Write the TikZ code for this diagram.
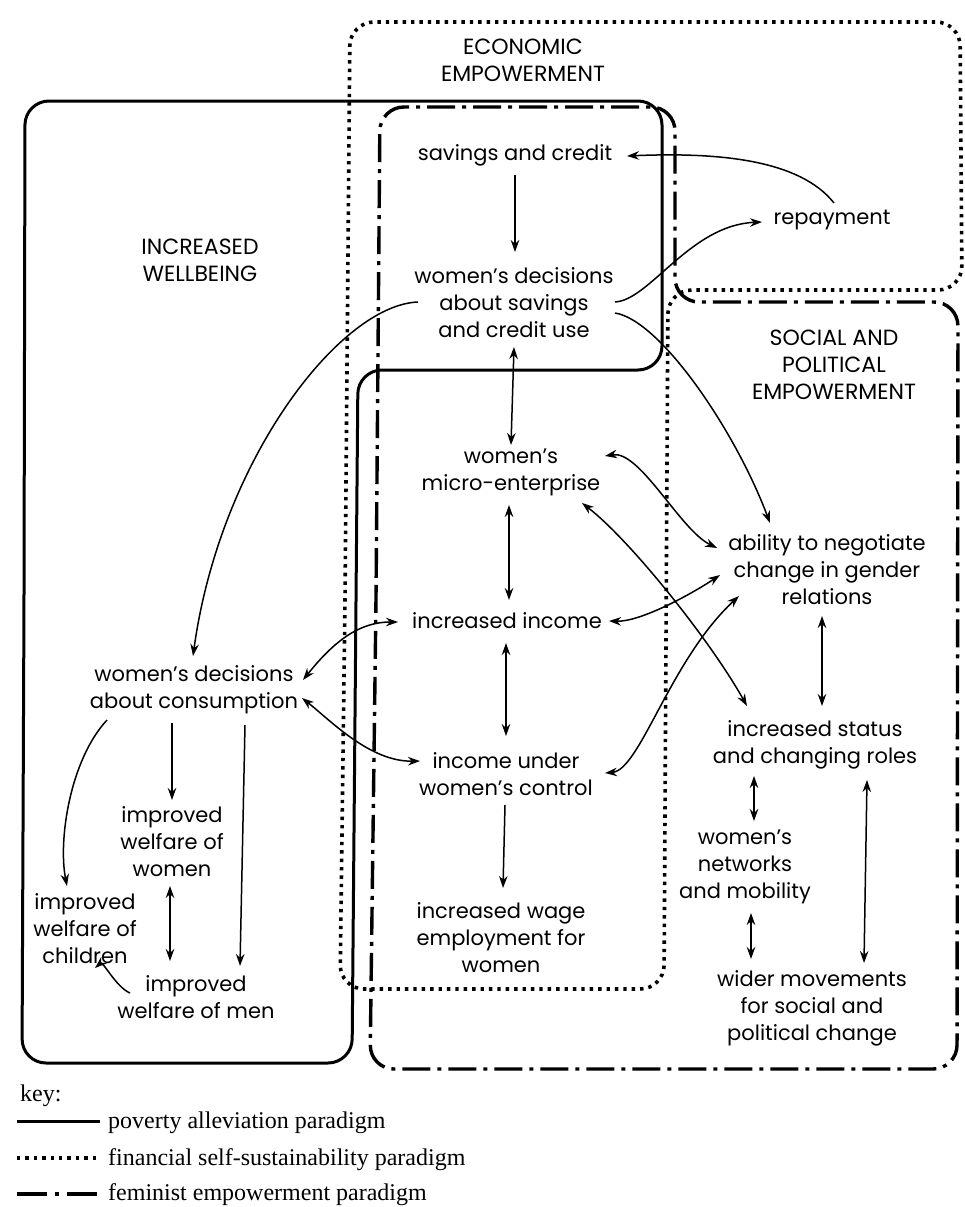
\documentclass[tikz,border=0pt]{standalone}
\usepackage{fontspec}
\setmainfont{Poppins}
\newfontfamily\keyfont{Liberation Serif}
\usetikzlibrary{calc,arrows.meta}
\begin{document}
\begin{tikzpicture}[x=1pt,y=-1pt,
  lab/.style={align=center,inner sep=0pt,font=\fontsize{21}{27}\selectfont},
  heading/.style={align=center,inner sep=0pt,font=\fontsize{22}{27}\selectfont},
  arr/.style={line width=1.5pt,-{Stealth[length=12pt,width=8.5pt]}},
  darr/.style={line width=1.5pt,{Stealth[length=12pt,width=8.5pt]}-{Stealth[length=12pt,width=8.5pt]}},
  pov/.style={line width=3pt,rounded corners=24pt},
  fin/.style={line width=3.6pt,dash pattern=on 3.4pt off 5pt,rounded corners=24pt},
  fem/.style={line width=3.4pt,dash pattern=on 28pt off 7pt on 4pt off 7pt,rounded corners=24pt},
  keytext/.style={anchor=west,inner sep=0pt,font=\keyfont\fontsize{24}{28}\selectfont}]
\useasboundingbox (0,0) rectangle (964,1207);
\fill[white] (0,0) rectangle (964,1207);

% paradigm outlines
\draw[pov] (24,600) -- (25,101) -- (662,101) -- (662,370) -- (358,370) -- (352,1063) -- (22,1063) -- cycle;
\draw[fin] (345,600) -- (350,22) -- (960,22) -- (962,290) -- (668,290) -- (664,989) -- (340,989) -- cycle;
\draw[fem] (376,600) -- (380,107) -- (675,107) -- (675,302) -- (958,302) -- (957,1069) -- (370,1069) -- cycle;

% headings
\node[heading] (econ) at (523,60) {ECONOMIC\\EMPOWERMENT};
\node[heading] (well) at (200,260) {INCREASED\\WELLBEING};
\node[heading] (social) at (834,365) {SOCIAL AND\\POLITICAL\\EMPOWERMENT};

% items
\node[lab] (savings) at (515,155) {savings and credit};
\node[lab] (repay) at (832,220) {repayment};
\node[lab] (decsav) at (514,303) {women’s decisions\\about savings\\and credit use};
\node[lab] (micro) at (511,472) {women’s\\micro-enterprise};
\node[lab] (ability) at (827,570) {ability to negotiate\\change in gender\\relations};
\node[lab] (income) at (507,621) {increased income};
\node[lab] (cons) at (194,690) {women’s decisions\\about consumption};
\node[lab] (status) at (815,745) {increased status\\and changing roles};
\node[lab] (control) at (506,774) {income under\\women’s control};
\node[lab] (wwomen) at (172,842) {improved\\welfare of\\women};
\node[lab] (networks) at (745,867) {women’s\\networks\\and mobility};
\node[lab] (children) at (85,929) {improved\\welfare of\\children};
\node[lab] (wage) at (501,938) {increased wage\\employment for\\women};
\node[lab] (wmen) at (196,997) {improved\\welfare of men};
\node[lab] (wider) at (812,1008) {wider movements\\for social and\\political change};

% connectors
\draw[arr] ($(savings)+(0,20)$) -- ($(decsav)+(1,-51)$);
\draw[arr] ($(repay)+(2,-17)$) .. controls ($(repay)+(-32,-60)$) and ($(savings)+(205,-3)$) .. ($(savings)+(112,1)$);
\draw[arr] ($(decsav)+(101,-1)$) .. controls ($(decsav)+(136,-3)$) and ($(repay)+(-142,5)$) .. ($(repay)+(-70,2)$);
\draw[arr] ($(decsav)+(-96,-1)$) .. controls ($(decsav)+(-174,2)$) and ($(cons)+(26,-230)$) .. ($(cons)+(-1,-34)$);
\draw[darr] ($(decsav)+(0,44)$) -- ($(micro)+(0,-27)$);
\draw[arr] ($(decsav)+(101,10)$) .. controls ($(decsav)+(146,17)$) and ($(ability)+(-92,-140)$) .. ($(ability)+(-57,-47)$);
\draw[darr] ($(micro)+(94,-16)$) .. controls ($(micro)+(129,-22)$) and ($(ability)+(-147,-40)$) .. ($(ability)+(-110,-22)$);
\draw[darr] ($(micro)+(-2,33)$) -- ($(income)+(2,-21)$);
\draw[darr] ($(micro)+(71,31)$) .. controls ($(micro)+(119,68)$) and ($(status)+(-105,-105)$) .. ($(status)+(-68,-39)$);
\draw[darr] ($(income)+(102,0)$) .. controls ($(income)+(133,1)$) and ($(ability)+(-137,25)$) .. ($(ability)+(-107,5)$);
\draw[darr] ($(income)+(-1,22)$) -- ($(control)+(0,-38)$);
\draw[darr] ($(control)+(99,-1)$) .. controls ($(control)+(134,-4)$) and ($(ability)+(-157,90)$) .. ($(ability)+(-88,26)$);
\draw[darr] ($(cons)+(109,-10)$) .. controls ($(cons)+(141,-50)$) and ($(income)+(-147,1)$) .. ($(income)+(-109,1)$);
\draw[darr] ($(cons)+(108,8)$) .. controls ($(cons)+(136,30)$) and ($(control)+(-136,-12)$) .. ($(control)+(-86,-13)$);
\draw[arr] ($(cons)+(-22,33)$) -- ($(wwomen)+(0,-42)$);
\draw[arr] ($(cons)+(51,35)$) -- ($(wmen)+(44,-31)$);
\draw[arr] ($(cons)+(-87,30)$) .. controls ($(cons)+(-124,70)$) and ($(children)+(-27,-89)$) .. ($(children)+(-18,-43)$);
\draw[darr] ($(wwomen)+(-2,44)$) -- ($(wmen)+(-26,-36)$);
\draw[arr] ($(wmen)+(-66,-4)$) .. controls ($(wmen)+(-80,-10)$) and ($(children)+(18,32)$) .. ($(children)+(10,39)$);
\draw[darr] ($(ability)+(-5,46)$) -- ($(status)+(7,-39)$);
\draw[darr] ($(status)+(-61,31)$) -- ($(networks)+(9,-46)$);
\draw[darr] ($(status)+(52,35)$) -- ($(wider)+(52,-45)$);
\draw[darr] ($(networks)+(6,46)$) -- ($(wider)+(-61,-49)$);
\draw[arr] ($(control)+(-1,31)$) -- ($(wage)+(2,-50)$);

% key
\node[keytext] (key) at (20,1096) {key:};
\coordinate (k1a) at (17,1121); \coordinate (k1b) at (100,1121);
\coordinate (k2a) at (17,1158); \coordinate (k2b) at (97,1158);
\coordinate (k3a) at (17,1194); \coordinate (k3b) at (97,1194);
\draw[line width=3pt] (k1a) -- (k1b);
\draw[line width=3.6pt,dash pattern=on 3.4pt off 5pt] (k2a) -- (k2b);
\draw[line width=3.4pt,dash pattern=on 30pt off 8pt on 4pt off 8pt] (k3a) -- (k3b);
\node[keytext] (k1) at (108,1123) {poverty alleviation paradigm};
\node[keytext] (k2) at (108,1160) {financial self-sustainability paradigm};
\node[keytext] (k3) at (108,1195) {feminist empowerment paradigm};
\end{tikzpicture}
\end{document}
